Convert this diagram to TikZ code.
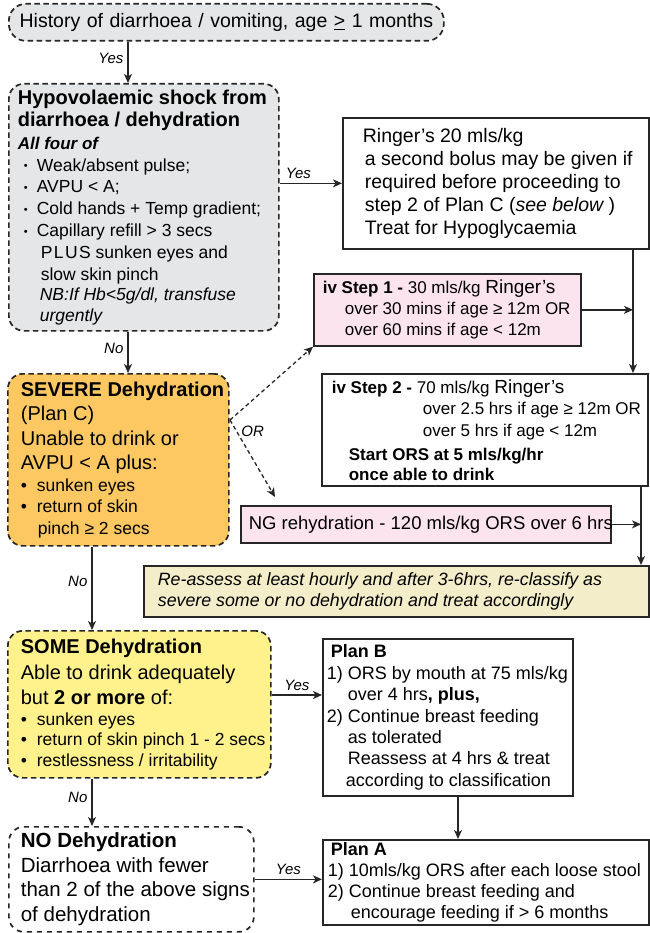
\documentclass[tikz,border=0pt]{standalone}
\usepackage{fontspec}
\setmainfont{Liberation Sans}
\usetikzlibrary{arrows.meta}

\definecolor{shockgrey}{RGB}{229,230,231}
\definecolor{severeorange}{RGB}{253,200,98}
\definecolor{someyellow}{RGB}{255,242,140}
\definecolor{ivpink}{RGB}{252,228,238}
\definecolor{reassessbeige}{RGB}{243,237,201}

\newcommand{\fs}[2]{\fontsize{#1}{#2}\selectfont}
\newcommand{\ind}[1]{\hspace*{#1}}
\newcommand{\bul}{\makebox[16pt][l]{\textbullet}}
\newcommand{\sbul}{\makebox[19pt][l]{\hspace*{6pt}\raisebox{1.5pt}{\fs{11}{11}\textbullet}}}

\begin{document}
\begin{tikzpicture}[x=1pt,y=-1pt,
  dashbox/.style={draw=black!85,dash pattern=on 5.5pt off 3.5pt,line width=1.7pt,
    rounded corners=15pt,anchor=north west,align=left,inner xsep=0pt,inner ysep=1pt},
  linebox/.style={draw=black!85,line width=1.7pt,anchor=north west,align=left,
    inner xsep=0pt,inner ysep=1pt},
  lm/.style={execute at begin node={\leftskip=#1pt\spaceskip=0pt\xspaceskip=0pt\relax}},
  arr/.style={-{Stealth[length=9pt,width=8pt,inset=2.5pt]},line width=1.3pt,black!85},
  dasharr/.style={arr,dash pattern=on 4pt off 3pt},
  lbl/.style={font=\fs{15}{16}\itshape,inner sep=4pt,text=black}]
\useasboundingbox (0,0) rectangle (649,933);

% left column
\node[dashbox,fill=shockgrey,text width=435,minimum height=37,align=center,
  rounded corners=17pt,font=\fs{19.5}{22}] (hist) at (8,3)
  {History of diarrhoea / vomiting, age \underline{>} 1 months};
\node[dashbox,fill=shockgrey,text width=270,minimum height=247,lm=9] (shock) at (8,83) {%
  {\fs{20}{22.5}\bfseries Hypovolaemic shock from\\diarrhoea / dehydration\par}
  {\fs{17}{22.5}\bfseries\itshape All four of\par}
  {\fs{17.5}{21.8}\selectfont\sbul Weak/absent pulse;\\\sbul AVPU < A;\\\sbul Cold hands + Temp gradient;\\\sbul Capillary refill > 3 secs\\\ind{23pt}{\addfontfeature{LetterSpace=8}PLUS} sunken eyes and\\\ind{23pt}slow skin pinch\par}
  {\fs{17.5}{20.5}\itshape\ind{22pt}NB:If Hb<5g/dl, transfuse\\\ind{22pt}urgently\par}};
\node[dashbox,fill=severeorange,text width=221,minimum height=172,lm=13] (severe) at (7,373) {%
  {\fs{20}{24}\bfseries SEVERE Dehydration\par}
  {\fs{20}{24.5}\selectfont (Plan C)\\Unable to drink or\\AVPU < A plus:\par}
  {\fs{17.5}{21.5}\selectfont\bul sunken eyes\\\bul return of skin\\\ind{17pt}pinch ≥ 2 secs\par}};
\node[dashbox,fill=someyellow,text width=263,minimum height=147,lm=13] (some) at (7,630) {%
  {\fs{20}{25}\bfseries SOME Dehydration\par}
  {\fs{20}{25.5}\selectfont Able to drink adequately\\but {\bfseries 2 or more} of:\par}
  {\fs{17.5}{20.5}\selectfont\bul sunken eyes\\\bul return of skin pinch 1 - 2 secs\\\bul restlessness / irritability\par}};
\node[dashbox,dash pattern=on 5pt off 5pt,text width=245,minimum height=105,lm=12,
  font=\fs{20.5}{24.5}] (no) at (8,826)
  {{\bfseries NO Dehydration}\\Diarrhoea with fewer\\than 2 of the above signs\\of dehydration};

% right column
\node[linebox,text width=306,minimum height=131,lm=20,font=\fs{19.5}{23}] (ringer) at (342,117)
  {Ringer’s 20 mls/kg\\\ind{2pt}a second bolus may be given if\\\ind{2pt}required before proceeding to\\\ind{2pt}step 2 of Plan C ({\itshape see below} )\\\ind{2pt}Treat for Hypoglycaemia};
\node[linebox,fill=ivpink,text width=267,minimum height=72,lm=9,font=\fs{17}{21}] (step1) at (313,273)
  {{\bfseries iv Step 1 -} 30 mls/kg {\fs{19}{21}Ringer’s}\\\ind{22pt}over 30 mins if age ≥ 12m OR\\\ind{22pt}over 60 mins if age < 12m};
\node[linebox,text width=326,minimum height=112,lm=10,font=\fs{17}{21.5}] (step2) at (321,373)
  {{\bfseries iv Step 2 -} 70 mls/kg {\fs{19}{21.5}Ringer’s}\\\ind{91pt}over 2.5 hrs if age ≥ 12m OR\\\ind{91pt}over 5 hrs if age < 12m\par
  {\fs{17}{24}\bfseries\ind{17pt}Start ORS at 5 mls/kg/hr\par}{\fs{17}{20}\bfseries\ind{17pt}once able to drink\par}};
\node[linebox,fill=ivpink,text width=370,minimum height=37,lm=8,font=\fs{18.5}{21}] (ng) at (240,505)
  {\mbox{NG rehydration - 120 mls/kg ORS over 6 hrs}};
\node[linebox,fill=reassessbeige,text width=505,minimum height=51,lm=14,font=\fs{17.8}{21}\itshape] (reassess) at (143,565)
  {Re-assess at least hourly and after 3-6hrs, re-classify as\\severe some or no dehydration and treat accordingly};
\node[linebox,text width=250,minimum height=157,lm=4,font=\fs{18}{21.4}] (planb) at (322,638)
  {{\bfseries\ind{4pt}Plan B}\\1) ORS by mouth at 75 mls/kg\\\ind{21pt}over 4 hrs{\bfseries, plus,}\\2) Continue breast feeding\\\ind{21pt}as tolerated\\\ind{21pt}Reassess at 4 hrs \& treat\\\ind{19pt}according to classification};
\node[linebox,text width=326,minimum height=85,lm=5,font=\fs{18}{21}] (plana) at (322,839)
  {{\bfseries\ind{3pt}Plan A}\\1) 10mls/kg ORS after each loose stool\\2) Continue breast feeding and\\\ind{23pt}encourage feeding if > 6 months};

\coordinate (colA) at (128,0);
\coordinate (colB) at (92,0);
\coordinate (colC) at (633,0);
\coordinate (colD) at (641,0);
\coordinate (colE) at (458,0);
\coordinate (rowA) at (0,695);
\coordinate (orsplit) at (230,420);
\coordinate (ngtip) at (275,497);

\path[arr]
  (hist.south -| colA) edge node[lbl,auto,swap,pos=0.4] {Yes} (shock.north -| colA)
  (shock.east |- ringer.west) edge node[lbl,auto,pos=0.3] {Yes} (ringer.west)
  (shock.south -| colA) edge node[lbl,auto,swap,pos=0.4] {No} (severe.north -| colA)
  (severe.south -| colB) edge node[lbl,auto,swap,pos=0.42] {No} (some.north -| colB)
  (some.east |- rowA) edge node[lbl,auto] {Yes} (planb.west |- rowA)
  (some.south -| colB) edge node[lbl,auto,swap,pos=0.4] {No} (no.north -| colB)
  (no.east) edge node[lbl,auto] {Yes} (no.east -| plana.west)
  (planb.south -| colE) edge (plana.north -| colE)
  (ringer.south -| colC) edge (step2.north -| colC)
  (step1.east) edge (step1.east -| colC)
  (step2.south -| colD) edge (reassess.north -| colD)
  (ng.east) edge (ng.east -| colD);
\path[dasharr]
  (orsplit) edge (step1.south west)
  (orsplit) edge node[lbl,right,pos=0.15] {OR} (ngtip);
\end{tikzpicture}
\end{document}
